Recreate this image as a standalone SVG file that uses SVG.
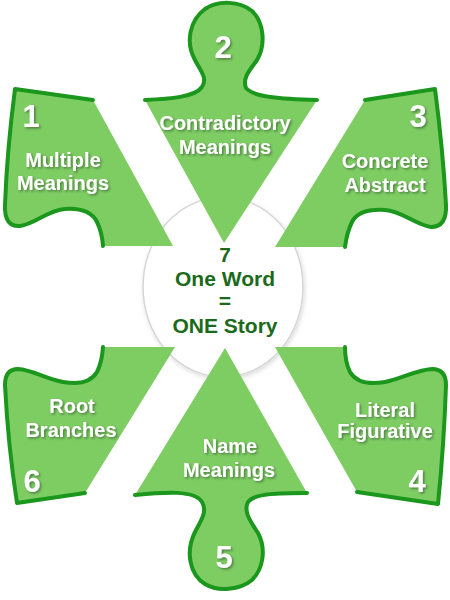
<svg xmlns="http://www.w3.org/2000/svg" width="450" height="600" viewBox="0 0 450 600">
<defs>
<filter id="sh" x="-20%" y="-20%" width="140%" height="140%">
<feDropShadow dx="1.5" dy="1.5" stdDeviation="0.8" flood-color="#2a4a2a" flood-opacity="0.6"/>
</filter>
<filter id="csh" x="-10%" y="-10%" width="120%" height="120%">
<feDropShadow dx="1" dy="2" stdDeviation="2" flood-color="#000" flood-opacity="0.15"/>
</filter>
<style>
.fill{fill:#7ecd63;stroke:none}
.edge{fill:none;stroke:#1a971c;stroke-width:4;stroke-linejoin:round;stroke-linecap:round}
.lbl{font-family:"Liberation Sans",Arial,sans-serif;font-weight:bold;font-size:20px;fill:#fff;text-anchor:middle;filter:url(#sh)}
.num{font-family:"Liberation Sans",Arial,sans-serif;font-weight:bold;font-size:31px;fill:#fff;text-anchor:middle;filter:url(#sh)}
.ctr{font-family:"Liberation Sans",Arial,sans-serif;font-weight:bold;font-size:21px;fill:#1b6a1b;text-anchor:middle;stroke:#fff;stroke-width:3;paint-order:stroke;stroke-linejoin:round}
</style>
</defs>
<rect width="450" height="600" fill="#fff"/>

<g id="node7">
<ellipse cx="223" cy="287" rx="80" ry="90" fill="#fff" stroke="#d6d6d6" stroke-width="1.5" filter="url(#csh)"/>
</g>

<g id="node1">
<path class="fill" d="M93,100 L15,89 Q7,150 5,205 Q4,227 20,226 C35,224 48,210 65,209 C82,208 92,212 97,222 Q102,232 103,246 L173,246 Z"/>
<path class="edge" d="M93,100 L15,89 Q7,150 5,205 Q4,227 20,226 C35,224 48,210 65,209 C82,208 92,212 97,222 Q102,232 103,246"/>
<text class="num" x="31" y="127">1</text>
<text class="lbl" x="63" y="167">Multiple</text>
<text class="lbl" x="63" y="190">Meanings</text>
</g>

<g id="node2">
<path class="fill" d="M145,100 C170,99 195,97 202,87 C208,78 200,70 195,60 C185,42 190,20 205,9 C218,0 240,1 252,11 C264,22 266,45 257,60 C250,70 242,78 246,88 C254,97 280,99 317,100 L224,243 Z"/>
<path class="edge" d="M145,100 C170,99 195,97 202,87 C208,78 200,70 195,60 C185,42 190,20 205,9 C218,0 240,1 252,11 C264,22 266,45 257,60 C250,70 242,78 246,88 C254,97 280,99 317,100"/>
<text class="num" x="223" y="58">2</text>
<text class="lbl" x="225" y="130">Contradictory</text>
<text class="lbl" x="225" y="154">Meanings</text>
</g>

<g id="node3">
<path class="fill" d="M365,100 L435,89 Q443,150 446,205 Q447,227 431,227 C416,225 402,211 385,210 C368,209 357,212 352,222 Q347,232 345,247 L275,247 Z"/>
<path class="edge" d="M365,100 L435,89 Q443,150 446,205 Q447,227 431,227 C416,225 402,211 385,210 C368,209 357,212 352,222 Q347,232 345,247"/>
<text class="num" x="418" y="127">3</text>
<text class="lbl" x="385" y="168">Concrete</text>
<text class="lbl" x="385" y="192">Abstract</text>
</g>

<g id="node4">
<path class="fill" d="M275,347 L345,347 Q345,362 350,372 C356,382 368,385 385,382 C402,379 415,370 432,369 Q446,369 446,385 Q444,445 438,504 L357,492 Z"/>
<path class="edge" d="M345,347 Q345,362 350,372 C356,382 368,385 385,382 C402,379 415,370 432,369 Q446,369 446,385 Q444,445 438,504 L357,492"/>
<text class="num" x="417" y="492">4</text>
<text class="lbl" x="385" y="417">Literal</text>
<text class="lbl" x="385" y="438">Figurative</text>
</g>

<g id="node5">
<path class="fill" d="M225,348 L135,495 C165,492 195,490 202,502 C208,512 200,522 195,532 C185,552 190,575 205,584 C218,592 240,590 252,580 C264,568 266,548 258,533 C251,522 243,512 248,502 C255,493 280,493 307,493 Z"/>
<path class="edge" d="M135,495 C165,492 195,490 202,502 C208,512 200,522 195,532 C185,552 190,575 205,584 C218,592 240,590 252,580 C264,568 266,548 258,533 C251,522 243,512 248,502 C255,493 280,493 307,493"/>
<text class="num" x="224" y="568">5</text>
<text class="lbl" x="230" y="453">Name</text>
<text class="lbl" x="229" y="477">Meanings</text>
</g>

<g id="node6">
<path class="fill" d="M175,347 L103,347 Q102,362 97,372 C91,382 80,385 63,382 C46,379 33,370 18,369 Q5,369 5,385 Q8,445 17,503 L85,493 Z"/>
<path class="edge" d="M103,347 Q102,362 97,372 C91,382 80,385 63,382 C46,379 33,370 18,369 Q5,369 5,385 Q8,445 17,503 L85,493"/>
<text class="num" x="32" y="492">6</text>
<text class="lbl" x="72" y="413">Root</text>
<text class="lbl" x="71" y="437">Branches</text>
</g>

<g id="node7-text">
<text class="ctr" x="225" y="262">7</text>
<text class="ctr" x="225" y="286">One Word</text>
<text class="ctr" x="225" y="308">=</text>
<text class="ctr" x="225" y="333">ONE Story</text>
</g>
</svg>
